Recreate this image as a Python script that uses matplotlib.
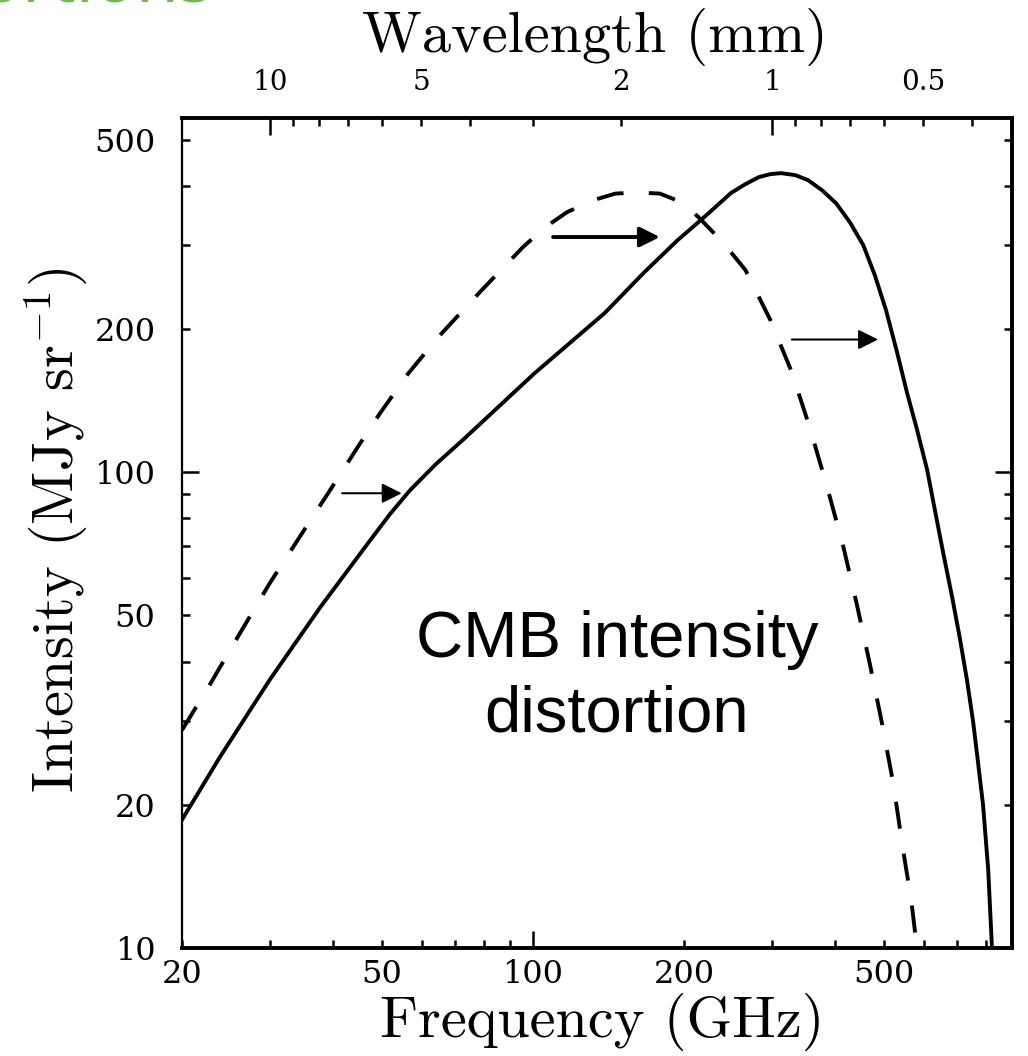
import numpy as np
import matplotlib.pyplot as plt
from matplotlib.ticker import FixedLocator, FuncFormatter

# Curvas: frecuencia (GHz) e intensidad (MJy/sr)
freq_planck = [20, 22.7, 26.1, 29.9, 34.8, 40.4, 44.8, 49.6, 56.4, 64.7, 78.1, 95.5, 105.7,
               117, 132, 146, 162, 179, 198, 214, 239, 265, 297, 328, 356, 385, 415, 442,
               469, 496, 522, 546, 567, 582]
inten_planck = [28.7, 35.7, 45.9, 58.4, 74.8, 95.3, 113, 133, 161, 192, 238, 297, 327,
                352, 373, 385, 387, 385, 369, 343, 304, 266, 209, 162, 124, 93.5, 69.9, 52.6,
                39.5, 29.6, 22.2, 16.1, 12.6, 10]

freq_dist = [20, 23.8, 29.9, 37.7, 47.4, 51.9, 56.9, 64.1, 72.6, 100.5, 139, 166, 194, 219,
             248, 265, 282, 297, 312, 333, 353, 377, 402, 428, 455, 480, 505, 531, 556,
             582, 610, 632, 656, 684, 709, 732, 753, 770, 788, 807, 821]
inten_dist = [18.6, 25.2, 36.6, 52.0, 71.9, 81.6, 91.6, 104, 117, 161, 216, 262, 307, 343,
              386, 403, 417, 423, 425, 421, 411, 391, 367, 335, 300, 259, 219, 179, 147,
              123, 101, 83.2, 67.9, 54.6, 44.6, 36.6, 29.9, 24.6, 20.0, 14.6, 10]

# Flechas (desplazamiento del espectro)
arrow_f0 = [41.7, 109.7, 328]
arrow_f1 = [54.8, 179, 487]
arrow_val = [90.3, 312, 190]
arrow_lw = [1.5, 2.8, 1.5]

# Ejes
x_major = [100]
x_minor = [20, 30, 40, 50, 60, 70, 80, 90, 200, 300, 400, 500, 600, 700, 800]
x_labels = [20, 50, 100, 200, 500]
y_major = [10, 100]
y_minor = [20, 30, 40, 50, 60, 70, 80, 90, 200, 300, 400, 500]
y_labels = [10, 20, 50, 100, 200, 500]
wl_major = [10, 1]
wl_minor = [9, 8, 7, 6, 5, 4, 3, 2, 0.9, 0.8, 0.7, 0.6, 0.5, 0.4]
wl_labels = [10, 5, 2, 1, 0.5]
C_MM_GHZ = 299.792458

plt.rcParams['font.family'] = ['cmr10', 'DejaVu Serif']
plt.rcParams['mathtext.fontset'] = 'cm'
plt.rcParams['axes.unicode_minus'] = False

fig = plt.figure(figsize=(10.28, 10.56), dpi=100)
ax = fig.add_axes([182 / 1028, 108 / 1056, 830 / 1028, 830 / 1056])

ax.plot(freq_planck, inten_planck, color='black', lw=2.8, dashes=(7, 6.5))
ax.plot(freq_dist, inten_dist, color='black', lw=2.8)

for f0, f1, v, lw in zip(arrow_f0, arrow_f1, arrow_val, arrow_lw):
    ax.annotate('', xy=(f1, v), xytext=(f0, v),
                arrowprops=dict(arrowstyle='-|>', color='black', lw=lw,
                                mutation_scale=30, shrinkA=0, shrinkB=0))

ax.set_xscale('log')
ax.set_yscale('log')
ax.set_xlim(20, 900)
ax.set_ylim(10, 555)


def make_fmt(labels):
    def fmt(v, pos):
        for t in labels:
            if abs(v - t) < 1e-6 * t:
                return f'{t:g}'
        return ''
    return FuncFormatter(fmt)


ax.xaxis.set_major_locator(FixedLocator(x_major))
ax.xaxis.set_minor_locator(FixedLocator(x_minor))
ax.xaxis.set_major_formatter(make_fmt(x_labels))
ax.xaxis.set_minor_formatter(make_fmt(x_labels))
ax.yaxis.set_major_locator(FixedLocator(y_major))
ax.yaxis.set_minor_locator(FixedLocator(y_minor))
ax.yaxis.set_major_formatter(make_fmt(y_labels))
ax.yaxis.set_minor_formatter(make_fmt(y_labels))

ax.tick_params(axis='both', which='both', direction='in', width=1.8,
               labelfontfamily='DejaVu Serif', labelsize=23)
ax.tick_params(axis='both', which='major', length=12)
ax.tick_params(axis='both', which='minor', length=6)
ax.tick_params(axis='x', which='both', bottom=True, top=False, pad=8)
ax.tick_params(axis='y', which='both', left=True, right=True, pad=19)

for side in ['top', 'bottom', 'right']:
    ax.spines[side].set_linewidth(2.8)
ax.spines['left'].set_linewidth(1.6)

# Eje superior: longitud de onda
ax2 = ax.twiny()
ax2.set_xscale('log')
ax2.set_xlim(ax.get_xlim())
ax2.xaxis.set_major_locator(FixedLocator([C_MM_GHZ / w for w in wl_major]))
ax2.xaxis.set_minor_locator(FixedLocator([C_MM_GHZ / w for w in wl_minor]))
wl_fmt = make_fmt(wl_labels)
ax2.xaxis.set_major_formatter(FuncFormatter(lambda v, p: wl_fmt(C_MM_GHZ / v, p)))
ax2.xaxis.set_minor_formatter(FuncFormatter(lambda v, p: wl_fmt(C_MM_GHZ / v, p)))
ax2.tick_params(axis='x', which='both', direction='in', width=1.8, pad=16,
                labelfontfamily='DejaVu Serif', labelsize=20)
ax2.tick_params(axis='x', which='major', length=12)
ax2.tick_params(axis='x', which='minor', length=6)
for s in ax2.spines.values():
    s.set_visible(False)

ax.set_xlabel('Frequency (GHz)', fontsize=42)
ax.xaxis.set_label_coords(0.506, -0.054)
ax.set_ylabel(r'Intensity (MJy sr$^{-1}$)', fontsize=42)
ax.yaxis.set_label_coords(-0.112, 0.504)
ax2.set_xlabel('Wavelength (mm)', fontsize=42)
ax2.xaxis.set_label_coords(0.498, 1.08)

ax.text(0.524, 0.3265, 'CMB intensity\ndistortion', transform=ax.transAxes,
        ha='center', va='center', multialignment='center', linespacing=1.3,
        fontsize=47, family='Liberation Sans')

# título verde de la diapositiva, cortado por el borde superior
fig.text(212 / 1028, 1 - 1 / 1056, 'Distortions', ha='right', va='baseline',
         color='#6cc04a', fontsize=50, fontweight='bold', family='Noto Sans')

fig.savefig('out.png', dpi=100)
